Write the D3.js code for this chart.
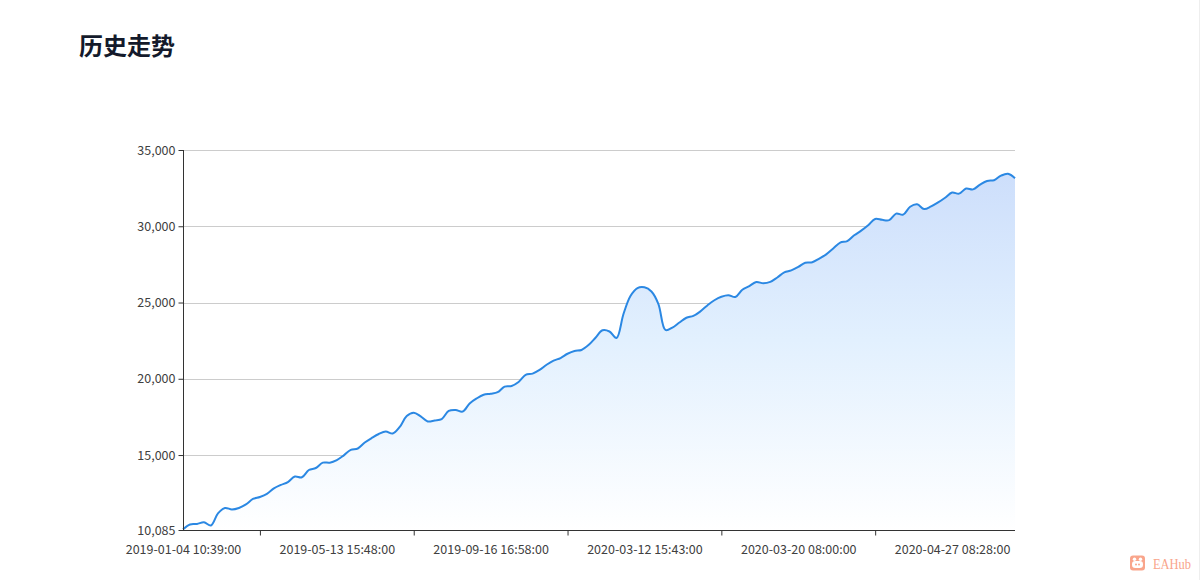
<!DOCTYPE html>
<html>
  <head>
    <meta charset="utf-8">
    <title>历史走势</title>
    <script src="https://d3js.org/d3.v7.min.js"></script>
    <style>
      body { margin: 0; background: #fff; }
      svg { display: block; }
      .axis text { font-family: "Noto Sans CJK SC", "Noto Sans", sans-serif; font-size: 12.5px; fill: #404040; }
      .axis path, .axis line { stroke: #333; }
      .grid line { stroke: #cccccc; }
    </style>
  </head>
  <body>
    <script>

      var width = 1200;
      var height = 580;

      // equity curve, one value per trade
      var balance = [
        10130, 10450, 10480, 10590, 10380, 11170, 11530, 11430, 11530, 11760,
        12120, 12250, 12450, 12810, 13040, 13230, 13590, 13540, 14020, 14150,
        14500, 14500, 14670, 14980, 15340, 15430, 15820, 16120, 16380, 16540,
        16410, 16840, 17560, 17780, 17530, 17200, 17270, 17360, 17890, 17950,
        17850, 18380, 18710, 18950, 19020, 19120, 19490, 19530, 19790, 20250,
        20340, 20580, 20920, 21190, 21360, 21640, 21820, 21890, 22210, 22690,
        23180, 23100, 22670, 24250, 25430, 25950, 26000, 25720, 24900, 23200,
        23360, 23690, 24000, 24120, 24420, 24810, 25150, 25380, 25480, 25360,
        25840, 26080, 26350, 26260, 26350, 26640, 26980, 27110, 27330, 27610,
        27640, 27880, 28160, 28540, 28930, 29030, 29410, 29710, 30060, 30480,
        30420, 30400, 30830, 30760, 31280, 31440, 31130, 31300, 31560, 31870,
        32210, 32140, 32470, 32420, 32730, 32970, 33020, 33320, 33440, 33150
      ];

      // x tick labels and the trade index they sit on
      var xLabels = [
        "2019-01-04 10:39:00", "2019-05-13 15:48:00", "2019-09-16 16:58:00",
        "2020-03-12 15:43:00", "2020-03-20 08:00:00", "2020-04-27 08:28:00"
      ];
      var xLabelIndex = [0, 22, 44, 66, 88, 110];
      var xTickIndex = [11, 33, 55, 77, 99];

      var yTicks = [10085, 15000, 20000, 25000, 30000, 35000];

      var svg = d3.select("body").append("svg")
        .attr("width", width)
        .attr("height", height);

      var xScale = d3.scalePoint().domain(d3.range(balance.length)).range([183, 1015]);
      var yScale = d3.scaleLinear().domain([10085, 35000]).range([530, 150]);

      // title
      svg.append("text")
        .attr("x", 79)
        .attr("y", 55)
        .style("font-family", "'Noto Sans CJK SC', sans-serif")
        .style("font-size", "24px")
        .style("font-weight", "bold")
        .style("fill", "#141a2b")
        .text("历史走势");

      // horizontal grid
      svg.append("g")
        .attr("class", "grid")
        .selectAll("line")
        .data(yTicks.slice(1))
        .enter().append("line")
          .attr("x1", 183)
          .attr("x2", 1015)
          .attr("y1", function (d){ return Math.round(yScale(d)) + 0.5; })
          .attr("y2", function (d){ return Math.round(yScale(d)) + 0.5; });

      // area gradient
      var grad = svg.append("defs").append("linearGradient")
        .attr("id", "areaFill")
        .attr("gradientUnits", "userSpaceOnUse")
        .attr("x1", 0).attr("y1", 150)
        .attr("x2", 0).attr("y2", 530);
      grad.append("stop").attr("offset", "0%").attr("stop-color", "#cadcfb");
      grad.append("stop").attr("offset", "50%").attr("stop-color", "#e2f0fe");
      grad.append("stop").attr("offset", "100%").attr("stop-color", "#ffffff");

      var curve = d3.curveCatmullRom.alpha(0.5);

      var area = d3.area()
        .x(function (d, i){ return xScale(i); })
        .y0(530)
        .y1(function (d){ return yScale(d); })
        .curve(curve);

      var line = d3.line()
        .x(function (d, i){ return xScale(i); })
        .y(function (d){ return yScale(d); })
        .curve(curve);

      svg.append("path")
        .datum(balance)
        .attr("d", area)
        .attr("fill", "url(#areaFill)");

      svg.append("path")
        .datum(balance)
        .attr("d", line)
        .attr("fill", "none")
        .attr("stroke", "#2b88e3")
        .attr("stroke-width", 2);

      // y axis
      var yAxis = svg.append("g")
        .attr("class", "axis")
        .attr("transform", "translate(183.5,0)")
        .call(d3.axisLeft(yScale).tickValues(yTicks).tickSize(5).tickSizeOuter(0).tickPadding(3)
          .tickFormat(d3.format(",")));
      yAxis.select(".domain").attr("d", "M0,150V530.5");

      // x axis: labels on trades, tick marks between them
      var xAxis = svg.append("g")
        .attr("class", "axis")
        .attr("transform", "translate(0,530.5)")
        .call(d3.axisBottom(xScale).tickValues(xLabelIndex).tickSize(0).tickPadding(15)
          .tickFormat(function (d, i){ return xLabels[i]; }));
      xAxis.select(".domain").attr("d", "M183,0H1015");

      svg.append("g")
        .attr("class", "axis")
        .attr("transform", "translate(0,530.5)")
        .call(d3.axisBottom(xScale).tickValues(xTickIndex).tickSize(5).tickFormat(""))
        .select(".domain").remove();

      // right edge rule
      svg.append("line")
        .attr("x1", 1199.5).attr("x2", 1199.5)
        .attr("y1", 0).attr("y2", height)
        .attr("stroke", "#eeeeee");

      // watermark
      var logo = svg.append("g").attr("transform", "translate(1130,555.5)");
      logo.append("rect").attr("width", 15).attr("height", 15).attr("rx", 3).attr("fill", "#f9a58b");
      logo.append("circle").attr("cx", 4.5).attr("cy", 3.8).attr("r", 1.7).attr("fill", "#fff");
      logo.append("circle").attr("cx", 10.5).attr("cy", 3.8).attr("r", 1.7).attr("fill", "#fff");
      logo.append("rect").attr("x", 2).attr("y", 5.5).attr("width", 11).attr("height", 7).attr("rx", 3.3).attr("fill", "#fff");
      logo.append("circle").attr("cx", 6).attr("cy", 9).attr("r", 1).attr("fill", "#f9a58b");
      logo.append("circle").attr("cx", 9).attr("cy", 9).attr("r", 1).attr("fill", "#f9a58b");
      svg.append("text")
        .attr("x", 1153)
        .attr("y", 568.5)
        .attr("textLength", 38)
        .attr("lengthAdjust", "spacingAndGlyphs")
        .style("font-family", "'Liberation Serif', serif")
        .style("font-size", "15px")
        .style("fill", "#f9a58b")
        .text("EAHub");

    </script>
  </body>
</html>
